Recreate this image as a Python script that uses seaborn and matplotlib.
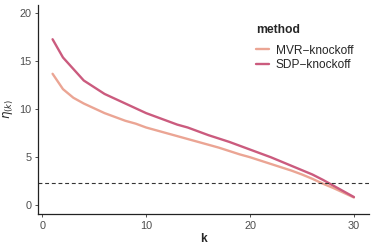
import numpy as np
import pandas as pd
import matplotlib
matplotlib.use("Agg")
import matplotlib.pyplot as plt
import seaborn as sns

k_values = list(range(1, 31))
sdp_values = [17.3, 15.4, 14.2, 13.0, 12.3, 11.6, 11.1, 10.6, 10.1, 9.6,
              9.2, 8.8, 8.4, 8.1, 7.7, 7.3, 6.95, 6.6, 6.2, 5.8,
              5.4, 5.0, 4.55, 4.1, 3.65, 3.2, 2.65, 2.05, 1.45, 0.85]
mvr_values = [13.7, 12.1, 11.2, 10.6, 10.1, 9.6, 9.2, 8.8, 8.5, 8.1,
              7.8, 7.5, 7.2, 6.9, 6.6, 6.3, 6.0, 5.65, 5.3, 5.0,
              4.65, 4.3, 3.95, 3.6, 3.2, 2.75, 2.25, 1.8, 1.3, 0.8]
methods = ["MVR\u2212knockoff", "SDP\u2212knockoff"]
threshold = 2.3

df = pd.DataFrame({
    "k": k_values * 2,
    "eta": mvr_values + sdp_values,
    "method": [methods[0]] * len(k_values) + [methods[1]] * len(k_values),
})

sns.set_style("white")
plt.rcParams['font.family'] = ['Liberation Sans', 'DejaVu Sans']

fig = plt.figure(figsize=(3.74, 2.49), dpi=100)
ax = fig.add_axes([0.1003, 0.1394, 0.8863, 0.8416])

palette = {methods[0]: "#EBA594", methods[1]: "#CB5B7E"}
sns.lineplot(data=df, x="k", y="eta", hue="method", palette=palette,
             linewidth=1.7, ax=ax)
ax.axhline(threshold, color="#333333", linestyle=(0, (3.5, 2.5)), linewidth=0.8)

ax.set_xlim(-0.45, 31.45)
ax.set_ylim(-0.95, 20.9)
ax.set_xticks([0, 10, 20, 30])
ax.set_yticks([0, 5, 10, 15, 20])
for s in ["top", "right"]:
    ax.spines[s].set_visible(False)
for s in ["left", "bottom"]:
    ax.spines[s].set_color("#222222")
    ax.spines[s].set_linewidth(0.9)
ax.tick_params(axis="both", which="both", length=2.5, width=0.6,
               color="#333333", labelcolor="#4D4D4D", labelsize=7.8, pad=2,
               left=True, bottom=True)
ax.set_xlabel("k", fontsize=8.5, fontweight="bold", labelpad=2)
ax.set_ylabel(r"$\eta_{(k)}$", fontsize=8.5, labelpad=2)

leg = ax.legend(title="method", loc="upper left", bbox_to_anchor=(0.64, 0.935),
                frameon=False, fontsize=8.6, title_fontsize=8.7,
                handlelength=1.1, handletextpad=0.6, labelspacing=0.2,
                borderpad=0, alignment="left")
leg.get_title().set_fontweight("bold")
leg._legend_box.sep = 6

fig.savefig("out.png", dpi=100)
